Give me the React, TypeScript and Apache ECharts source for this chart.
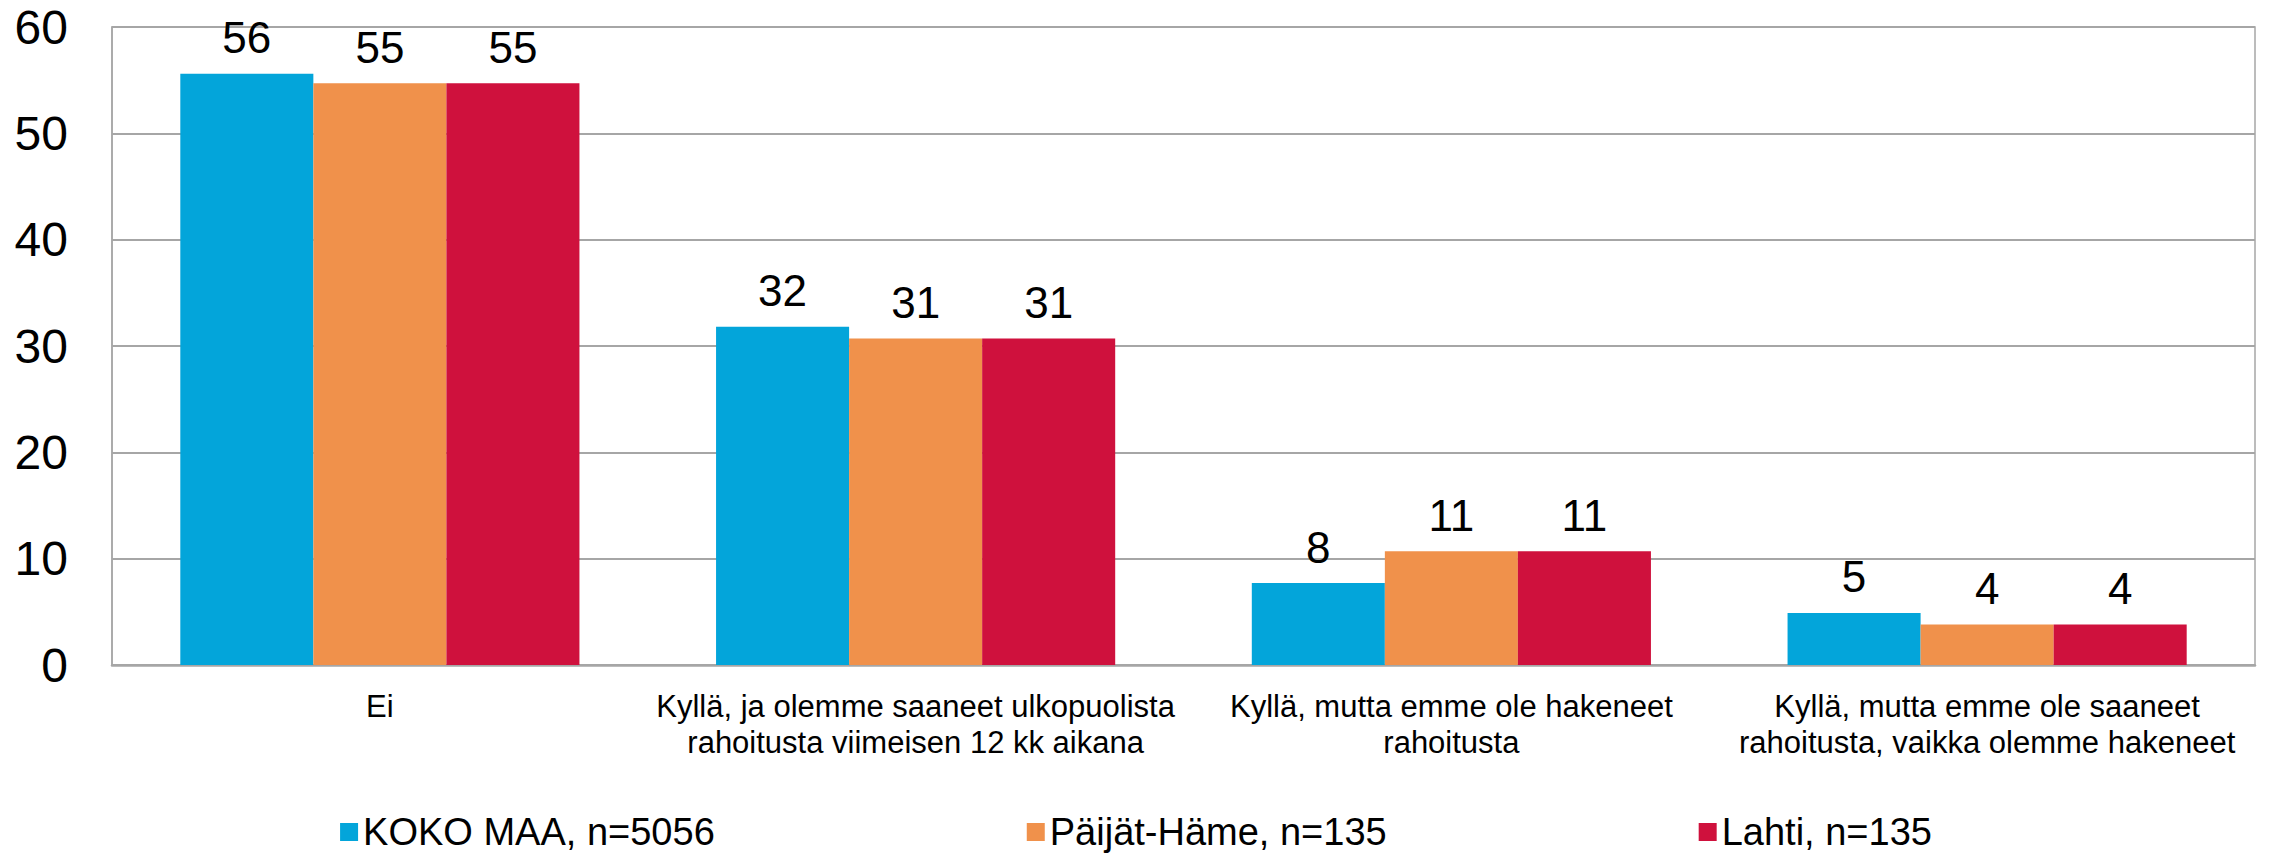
import React, { useEffect, useRef } from "react";
import * as echarts from "echarts";

const categories = [
  "Ei",
  "Kyllä, ja olemme saaneet ulkopuolista\nrahoitusta viimeisen 12 kk aikana",
  "Kyllä, mutta emme ole hakeneet\nrahoitusta",
  "Kyllä, mutta emme ole saaneet\nrahoitusta, vaikka olemme hakeneet",
];
const seriesNames = ["KOKO MAA, n=5056", "Päijät-Häme, n=135", "Lahti, n=135"];
const kokoMaa = [55.6, 31.8, 7.7, 4.9];
const paijatHame = [54.7, 30.7, 10.7, 3.8];
const lahti = [54.7, 30.7, 10.7, 3.8];
const colors = ["#03A5DA", "#F0914B", "#CF113D"];
const yTicks = { min: 0, max: 60, interval: 10 };

const FONT = "'Liberation Sans', Arial, sans-serif";

export default function App() {
  const ref = useRef<HTMLDivElement>(null);
  useEffect(() => {
    document.body.style.margin = "0";
    const chart = echarts.init(ref.current!, null, { renderer: "svg" });
    const values = [kokoMaa, paijatHame, lahti];
    chart.setOption({
      animation: false,
      textStyle: { fontFamily: FONT, color: "#000" },
      grid: {
        left: 112,
        right: 17,
        top: 27,
        bottom: 188,
        show: true,
        borderColor: "#a6a6a6",
        borderWidth: 1.5,
      },
      legend: {
        left: "center",
        top: 808,
        itemWidth: 18,
        itemHeight: 18,
        itemGap: 312,
        icon: "rect",
        textStyle: { fontSize: 38, fontFamily: FONT, color: "#000" },
        data: seriesNames,
      },
      xAxis: {
        type: "category",
        data: categories,
        axisLine: { lineStyle: { color: "#a6a6a6", width: 2.5 } },
        axisTick: { show: false },
        axisLabel: {
          fontSize: 31,
          lineHeight: 36,
          color: "#000",
          fontFamily: FONT,
          margin: 23,
          interval: 0,
        },
      },
      yAxis: {
        type: "value",
        min: yTicks.min,
        max: yTicks.max,
        interval: yTicks.interval,
        axisLine: { show: true, lineStyle: { color: "#a6a6a6", width: 1.5 } },
        axisTick: { show: false },
        splitLine: { lineStyle: { color: "#a6a6a6", width: 2 } },
        axisLabel: { fontSize: 48, color: "#000", fontFamily: FONT, margin: 44 },
      },
      series: seriesNames.map((name, i) => ({
        name,
        type: "bar",
        data: values[i],
        barGap: "0%",
        barCategoryGap: "25.5%",
        itemStyle: { color: colors[i] },
        label: {
          show: true,
          position: "top",
          distance: 14,
          fontSize: 44,
          color: "#000",
          fontFamily: FONT,
          formatter: (p: any) => String(Math.round(p.value)),
        },
      })),
    });
    return () => chart.dispose();
  }, []);
  return <div ref={ref} style={{ width: 2272, height: 853 }} />;
}
